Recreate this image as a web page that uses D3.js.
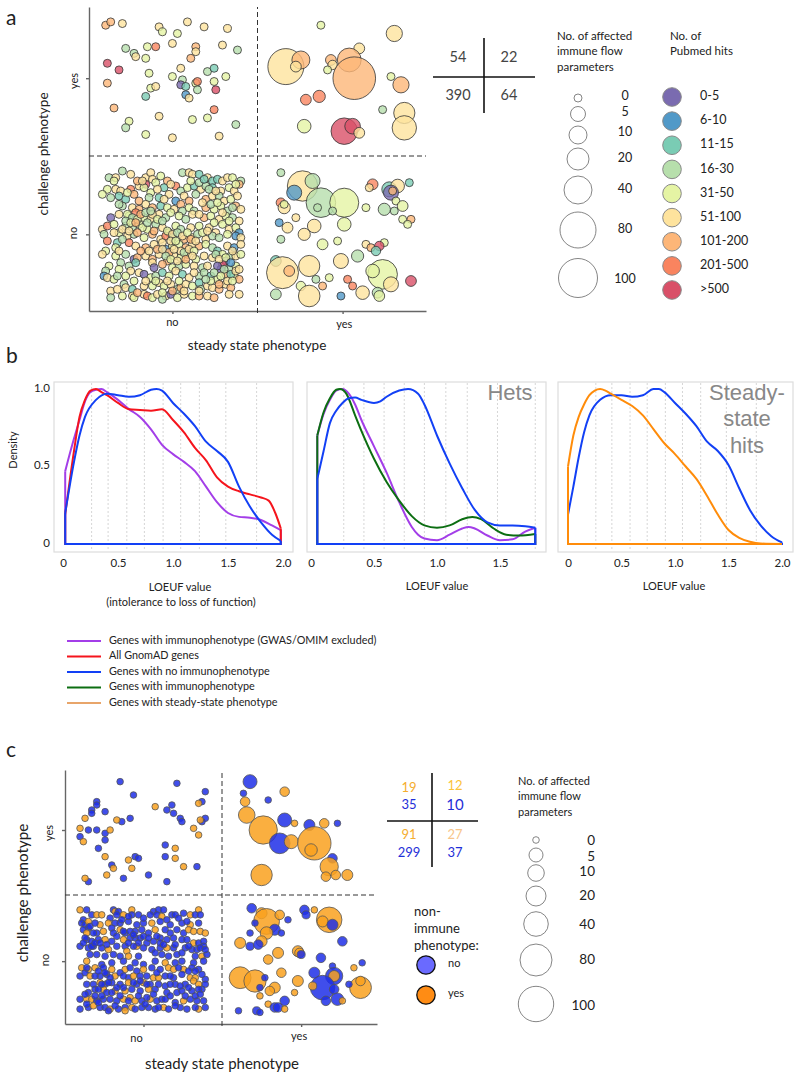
<!DOCTYPE html>
<html>
<head>
<meta charset="utf-8">
<title>Immune phenotype bubble charts</title>
<script src="https://cdn.jsdelivr.net/npm/d3@7"></script>
<style>
  body { margin: 0; background: #fff; }
  text { font-family: Lato, "Open Sans", sans-serif; fill: #222; }
</style>
</head>
<body>
<div id="chart"></div>
<script>
// ---- data ----
const flowTicks = [0, 5, 10, 20, 40, 80, 100];
const pubmedBins = ["0-5", "6-10", "11-15", "16-30", "31-50", "51-100", "101-200", "201-500", ">500"];
const pubmedColors = ["#7a6bb0", "#5199c8", "#7accb4", "#b7dfac", "#e5f4a4", "#fee39d", "#fdb678", "#f9845f", "#d95068"];
const tableA = [["54", "22"], ["390", "64"]];

// panel a points: [jitter x, jitter y, pubmed bin, no. of flow parameters]
const aNoYes = [[10,172,6],[13,174,6],[20,173,5],[42,171,5],[44,168,4],[53,167,4],[59,174,5],[69,171,5],[83,170,5],[50,161,5],[40,159,7],[35,159,4],[22,158,3],[27,155,3],[28,153,5],[34,152,4],[64,159,6],[64,156,5],[61,152,6],[80,160,5],[89,157,3],[11,149,8],[18,145,8],[36,143,4],[55,146,5],[71,144,3],[75,146,2],[50,141,4],[82,141,4],[75,138,4],[56,139,3],[64,137,4],[65,138,7],[55,136,0],[58,135,2],[65,133,3],[76,133,8],[11,137,6],[37,134,4],[40,135,5],[34,129,2],[58,130,1],[60,128,5],[15,122,6],[75,121,7],[24,114,4],[22,110,3],[42,117,5],[62,115,4],[71,116,4],[88,112,3],[34,106,4],[50,104,5],[78,105,5]];
const aYesYes = [[118,147,5,80],[127,151,6,10],[124,147,5,2],[139,172,4,0],[183,167,5,7],[162,158,5,2],[145,151,6,2],[146,148,5,1],[143,145,4,0],[156,151,6,26],[159,140,6,125],[181,141,4,0],[187,136,6,7],[130,127,7,2],[138,129,7,3],[176,121,3,0],[189,119,5,18],[129,111,4,4],[153,108,8,35],[158,111,8,6],[162,107,5,2],[189,110,5,28]];
const aYesNo = [[115,83,3,0],[128,75,5,52],[134,78,3,5],[123,71,1,5],[139,65,3,48],[153,65,4,45],[137,62,3,0],[146,60,3,0],[170,76,7,2],[168,74,5,0],[180,73,2,5],[185,75,5,4],[192,77,2,0],[181,71,0,5],[182,72,6,0],[184,66,4,0],[188,63,4,2],[177,61,3,3],[183,60,3,0],[166,62,4,0],[115,65,7,1],[117,62,5,3],[117,64,4,0],[124,56,5,0],[114,53,1,0],[119,50,5,2],[135,51,5,4],[129,46,5,3],[153,52,4,4],[188,55,4,0],[193,55,6,0],[191,52,4,0],[115,43,3,0],[140,40,4,2],[149,42,4,0],[166,40,5,0],[169,38,6,0],[177,41,4,0],[174,39,8,1],[172,36,2,1],[151,30,5,5],[161,33,3,3],[112,30,2,2],[116,23,5,60],[120,24,6,2],[132,27,5,18],[176,22,4,48],[170,24,4,4],[136,19,3,0],[144,20,4,0],[155,19,7,0],[158,15,7,0],[193,18,8,2],[181,16,5,5],[127,15,4,1],[140,15,6,0],[132,9,5,19],[112,10,3,2],[151,9,1,0],[164,11,5,4],[173,11,3,2],[174,9,4,2]];
const aNoNo = [[20,84,3],[25,82,5],[12,80,3],[16,80,5],[34,80,5],[37,83,5],[43,81,4],[47,78,6],[56,83,3],[60,83,5],[62,82,5],[66,82,2],[71,80,5],[74,78,2],[77,79,2],[80,78,5],[83,80,5],[86,80,4],[91,78,3],[34,76,8],[38,79,5],[40,77,4],
[11,73,4],[16,73,5],[19,72,5],[25,73,7],[30,75,5],[33,74,4],[37,71,4],[45,74,2],[52,75,7],[55,72,3],[59,74,4],[63,75,2],[67,73,5],[70,75,3],[74,74,2],[79,72,5],[84,74,4],[87,72,5],[90,76,6],
[13,68,3],[18,69,2],[22,67,2],[27,70,6],[30,66,6],[36,68,3],[42,68,2],[48,70,5],[52,66,1],[57,69,5],[60,66,6],[64,70,3],[70,67,6],[74,69,5],[78,69,3],[81,66,5],[85,67,4],[89,69,5],[8,70,4],
[20,63,3],[26,62,5],[30,61,6],[34,64,5],[38,62,6],[43,63,2],[47,62,4],[51,61,5],[55,64,6],[56,60,3],[60,62,4],[63,60,3],[70,62,6],[75,61,4],[79,63,4],[83,60,3],[88,63,6],[91,61,5],
[13,56,0],[18,58,5],[24,57,3],[28,59,7],[33,56,4],[37,55,5],[42,58,5],[46,56,3],[49,59,4],[54,57,4],[58,55,3],[62,58,5],[69,56,6],[73,57,4],[78,55,5],[82,57,4],[86,56,3],[90,54,5],
[8,49,5],[11,51,7],[15,52,4],[22,51,3],[26,50,3],[30,52,4],[35,49,4],[40,52,3],[44,50,5],[48,47,6],[52,51,4],[55,49,3],[61,50,5],[66,51,4],[72,50,5],[76,47,5],[80,52,4],[84,49,5],[88,50,4],[90,47,1],
[9,46,3],[11,42,7],[18,47,4],[23,45,5],[27,46,3],[33,44,4],[38,46,6],[43,43,5],[46,45,7],[50,44,2],[57,43,6],[62,44,5],[65,46,3],[70,43,5],[74,45,3],[78,44,3],[83,46,4],[88,45,1],[91,44,5],
[17,41,2],[16,38,4],[24,41,7],[28,39,5],[34,38,6],[39,40,5],[44,41,5],[46,37,1],[50,39,4],[54,40,4],[58,38,6],[62,40,5],[66,39,6],[70,40,4],[74,38,3],[77,36,2],[83,39,5],[87,38,1],[91,40,5],
[10,36,4],[8,34,5],[16,33,4],[22,34,3],[27,31,0],[29,32,6],[34,33,5],[38,31,6],[42,34,5],[47,30,6],[51,33,5],[55,32,4],[59,34,5],[64,31,4],[69,33,5],[74,32,5],[80,34,4],[85,33,3],[82,30,0],[80,28,8],
[19,29,3],[24,27,3],[28,29,2],[38,29,5],[39,26,0],[44,28,6],[50,26,4],[54,27,3],[58,28,4],[63,27,5],[68,26,3],[71,27,5],[79,25,0],[84,25,3],[88,27,4],[12,27,4],[10,24,3],[18,25,4],
[25,24,5],[30,23,5],[33,22,0],[37,20,4],[40,21,3],[44,23,2],[48,21,4],[52,24,5],[56,22,2],[60,20,5],[66,21,3],[69,23,3],[73,21,2],[77,19,4],[82,22,6],[87,21,4],[90,19,6],[9,21,1],[11,20,5],
[21,16,3],[22,14,5],[26,13,2],[33,15,5],[38,15,4],[42,17,5],[45,15,4],[49,16,5],[53,13,3],[55,14,6],[58,16,5],[62,15,4],[66,17,2],[67,13,3],[71,15,5],[74,14,5],[78,13,6],[82,16,5],[85,14,6],[13,12,5],
[13,8,3],[20,9,4],[26,9,5],[27,8,4],[33,10,5],[35,9,7],[38,8,4],[41,10,5],[46,9,5],[49,10,0],[53,8,4],[57,10,5],[62,9,4],[66,9,6],[71,9,5],[75,8,6],[84,10,5],[90,10,5],[44,7,3],
[47,48,4],[50,46,5],[53,47,3],[56,45,5],[59,47,4],[61,43,6],[64,42,5],[49,42,5],[52,42,4],[55,36,5],[57,35,3],[60,37,5],[63,36,4],[48,35,6],[51,37,5],[46,33,3],[49,31,4],[53,30,5],[58,31,6],[62,33,5],
[23,58,4],[26,56,3],[29,55,4],[31,58,6],[34,59,3],[22,54,3],[25,53,4],[28,53,6],[32,50,4],[35,53,3],[38,58,5],[41,55,4],[44,54,3],[39,48,6],[20,49,5],[15,47,5],[24,48,5],[29,47,6],
[76,34,3],[78,31,5],[82,32,4],[85,29,1],[88,33,5],[91,34,4],[86,36,5],[77,27,0],[81,25,3],[85,22,2],[88,24,5],[75,23,3],[79,21,4],[83,18,5],[86,18,4],[90,25,5],[73,18,4],[78,16,6],
[15,78,4],[29,78,6],[32,78,5],[41,73,5],[49,76,5],[61,78,4],[66,77,3],[69,79,2],[72,73,3],[76,72,5],[88,76,4],[18,64,3],[23,71,4],[37,60,3],[45,67,5],[68,65,5],[73,64,3],[77,65,4],[86,62,3],[66,58,5],[75,53,4],[80,59,5],[84,54,4],[68,47,4],[71,48,5],[18,36,5],[20,43,3],[31,36,6],[36,36,5],[41,37,6],[44,37,5],[15,19,4],[17,21,3],[27,18,4],[34,18,5],[40,18,4],[47,18,5],[54,18,4],[63,23,5],[66,12,5],[70,19,3],[50,12,6],[44,11,4],[57,12,5],[29,11,6],[17,13,5],[22,21,4]];

// density curves, [LOEUF, density] pairs
const b1Purple = [[.02,.47],[.1,.68],[.15,.8],[.2,.92],[.25,.98],[.3,.995],[.35,1],[.4,.98],[.5,.93],[.6,.87],[.7,.82],[.8,.74],[.9,.64],[1,.58],[1.1,.53],[1.2,.47],[1.3,.37],[1.4,.27],[1.5,.2],[1.6,.175],[1.7,.17],[1.8,.155],[1.9,.12],[1.98,.09]];
const b1Red = [[.02,.19],[.1,.6],[.15,.82],[.2,.93],[.25,.99],[.3,1],[.35,.98],[.4,.96],[.5,.91],[.6,.87],[.7,.865],[.8,.86],[.9,.87],[1,.8],[1.1,.72],[1.2,.62],[1.3,.54],[1.4,.43],[1.5,.37],[1.6,.34],[1.7,.32],[1.8,.3],[1.87,.28],[1.93,.2],[1.98,.1]];
const b1Blue = [[.02,.2],[.1,.53],[.15,.7],[.2,.82],[.3,.93],[.4,.97],[.5,.96],[.6,.95],[.7,.96],[.8,.995],[.85,1],[.9,.99],[1,.91],[1.1,.84],[1.2,.76],[1.3,.66],[1.4,.6],[1.5,.53],[1.6,.37],[1.7,.24],[1.8,.14],[1.9,.06],[1.98,.02]];
const b2Purple = [[.05,.7],[.1,.84],[.15,.93],[.2,.99],[.25,1],[.3,.97],[.35,.9],[.4,.8],[.5,.63],[.6,.46],[.7,.27],[.8,.11],[.85,.06],[.9,.035],[1,.025],[1.1,.06],[1.2,.1],[1.25,.11],[1.3,.1],[1.4,.055],[1.5,.025],[1.6,.03],[1.7,.08],[1.78,.105]];
const b2Green = [[.05,.7],[.1,.85],[.15,.94],[.2,.995],[.23,1],[.28,.97],[.35,.83],[.4,.73],[.5,.55],[.6,.4],[.7,.28],[.8,.18],[.9,.12],[1,.105],[1.1,.12],[1.2,.16],[1.28,.175],[1.35,.16],[1.45,.1],[1.55,.06],[1.65,.055],[1.78,.065]];
const b2Blue = [[.05,.42],[.1,.6],[.15,.78],[.2,.86],[.25,.91],[.3,.94],[.35,.945],[.4,.93],[.5,.91],[.55,.92],[.6,.95],[.7,.99],[.77,1],[.85,.97],[.9,.9],[1,.7],[1.1,.52],[1.2,.36],[1.3,.22],[1.4,.14],[1.5,.12],[1.6,.12],[1.7,.115],[1.78,.105]];
const b3Blue = [[0,.19],[.05,.37],[.1,.56],[.15,.72],[.2,.83],[.3,.93],[.4,.96],[.5,.96],[.6,.95],[.7,.96],[.8,1],[.85,1],[.9,.98],[1,.91],[1.1,.84],[1.2,.76],[1.3,.66],[1.4,.6],[1.5,.51],[1.6,.36],[1.7,.22],[1.8,.12],[1.9,.05],[2,.01]];
const b3Orange = [[0,.5],[.05,.7],[.1,.82],[.15,.9],[.2,.96],[.25,.99],[.3,1],[.35,.99],[.4,.97],[.5,.93],[.6,.89],[.7,.83],[.8,.74],[.9,.65],[1,.58],[1.1,.5],[1.2,.42],[1.3,.31],[1.4,.19],[1.5,.09],[1.6,.04],[1.7,.015],[1.8,.003],[2,0]];
const decilesB1 = [.26,.41,.58,.74,.91,1.07,1.24,1.48,1.76];
const decilesB2 = [.26,.42,.58,.74,.9,1.07,1.24,1.48,1.78];
const decilesB3 = [.26,.41,.58,.74,.91,1.07,1.24,1.48,1.76];
const legendLines = ["Genes with immunophenotype (GWAS/OMIM excluded)", "All GnomAD genes", "Genes with no immunophenotype", "Genes with immunophenotype", "Genes with steady-state phenotype"];

// panel c points: [jitter x, jitter y, non-immune phenotype 0/1, no. of flow parameters]
const cNoYes = [[33,146,0],[67,145,0],[41,138,0],[84,140,0],[19,134,0],[19,132,0],[16,129,0],[16,127,0],[24,128,0],[64,132,0],[61,129,0],[65,127,0],[82,134,0],[69,124,0],[70,122,0],[84,124,0],[39,124,0],[34,122,0],[14,117,0],[19,117,0],[24,115,0],[9,113,0],[24,111,0],[20,106,0],[60,108,0],[42,101,0],[44,100,0],[60,101,0],[28,96,0],[79,95,0],[35,88,0],[50,90,0],[14,86,0],[61,86,0],[82,122,0],
[54,131,1],[80,133,1],[12,124,1],[31,123,1],[81,123,1],[9,118,1],[27,117,1],[77,118,1],[11,110,1],[80,114,1],[66,106,1],[24,101,1],[38,99,1],[66,100,1],[29,94,1],[40,94,1],[71,95,1],[25,90,1],[12,88,1]];
const cYesYes = [[111,146,0,5],[107,139,0,0],[132,140,1,2],[122,135,0,0],[108,134,1,2],[109,126,1,10],[119,117,1,60],[132,123,0,5],[138,121,1,0],[147,120,0,3],[156,121,1,2],[164,121,0,0],[129,109,0,23],[136,110,1,5],[150,109,1,88],[148,105,1,4],[161,100,0,2],[159,95,1,15],[118,90,1,26],[157,89,1,2],[163,90,1,2],[170,90,1,3]];
const cYesNo = [[112,70,0,2],[118,67,1,3],[121,62,1,47],[114,61,0,0],[129,66,1,2],[134,63,0,0],[126,57,0,3],[130,55,0,0],[121,55,1,4],[118,50,1,3],[111,55,0,0],[105,49,1,3],[111,47,0,1],[116,48,0,2],[144,69,0,2],[145,66,0,1],[150,69,1,0],[159,63,1,45],[155,62,1,3],[161,60,0,3],[167,50,0,2],[128,43,1,3],[122,39,1,2],[140,44,1,3],[141,43,1,2],[142,42,0,1],[154,40,0,2],[161,35,0,0],[179,37,0,0],[174,34,1,0],[162,29,0,12],[162,29,1,3],[150,31,0,3],[155,22,0,40],[149,23,1,1],[162,21,0,2],[105,28,1,28],[114,26,1,30],[120,28,0,0],[117,22,0,0],[130,31,1,2],[140,26,1,3],[126,22,1,3],[123,20,1,2],[138,19,1,0],[117,17,1,0],[132,14,0,2],[122,12,1,0],[178,22,1,28],[178,26,1,2],[171,24,0,0],[157,14,0,2],[164,15,0,4],[167,14,1,0],[126,10,0,2],[128,10,0,2],[132,9,1,0],[115,8,0,1],[117,7,0,0],[104,8,0,0]];
const cNoNo = [[9,69,1],[13,69,0],[29,69,0],[30,68,1],[32,68,0],[40,69,1],[53,68,0],[56,69,0],[59,69,0],[80,69,1],
[11,63,0],[16,66,0],[19,66,1],[22,66,1],[27,64,0],[31,66,0],[35,66,1],[40,66,0],[44,66,0],[51,66,0],[55,66,0],[58,65,1],[64,66,0],[66,66,0],[71,67,0],[75,66,1],[78,66,0],[81,66,0],
[10,61,0],[12,60,0],[14,62,1],[21,60,1],[26,61,1],[30,61,0],[33,61,0],[38,62,0],[43,60,0],[47,61,0],[52,61,1],[57,62,0],[63,60,0],[70,61,0],[75,60,1],[80,61,0],
[11,57,0],[14,58,0],[13,55,1],[19,55,0],[23,56,1],[28,58,0],[33,57,1],[36,55,0],[42,56,0],[46,57,0],[50,55,0],[54,57,1],[60,57,0],[67,57,0],[71,55,0],[74,57,1],[77,56,1],[81,56,1],[84,55,1],
[13,51,0],[16,50,0],[20,51,0],[24,51,1],[28,50,0],[35,51,1],[39,52,0],[42,52,0],[45,52,0],[49,49,0],[53,50,0],[57,52,0],[61,51,0],[65,52,0],[70,51,0],[77,49,1],[80,49,0],[83,50,0],
[9,47,0],[14,46,0],[17,47,0],[22,46,0],[26,45,1],[31,47,0],[36,47,0],[37,44,1],[43,47,1],[47,46,0],[52,45,0],[57,46,0],[61,46,1],[65,46,0],[72,46,0],[76,45,0],[83,47,0],
[15,42,0],[19,42,0],[24,41,0],[29,42,0],[33,41,0],[38,41,1],[44,41,0],[54,43,0],[58,42,0],[62,41,0],[67,42,0],[70,43,0],[78,41,0],[82,41,1],[85,42,0],
[13,38,1],[22,36,0],[28,37,0],[35,38,0],[42,37,0],[47,36,0],[54,38,0],[60,37,1],[66,37,0],[70,38,0],[77,37,0],[83,38,0],
[10,34,1],[14,33,1],[18,34,1],[23,34,0],[28,33,1],[36,33,1],[39,34,0],[43,32,0],[47,33,1],[52,34,0],[57,33,0],[62,34,1],[65,33,1],[71,33,1],[76,34,0],[80,33,0],
[9,29,0],[12,31,0],[15,29,1],[21,29,0],[25,30,0],[30,29,1],[38,28,0],[41,29,1],[45,29,0],[53,28,1],[56,28,1],[60,29,0],[65,28,0],[70,30,0],[75,28,1],[78,28,1],[84,27,0],
[13,24,0],[17,24,0],[21,25,1],[24,24,0],[28,25,0],[33,24,0],[38,25,1],[43,24,0],[47,25,1],[51,24,0],[60,23,0],[66,24,0],[72,24,0],[77,26,1],[80,24,1],[84,24,0],
[14,19,0],[18,21,0],[23,21,1],[25,19,0],[30,20,1],[36,20,1],[40,21,0],[45,20,0],[50,21,1],[54,21,0],[61,19,0],[67,19,0],[70,20,0],[76,20,0],[82,21,0],
[9,15,0],[13,15,1],[16,15,1],[19,14,0],[23,15,0],[27,15,0],[31,14,0],[35,15,1],[39,16,1],[42,14,1],[46,14,0],[51,15,1],[55,14,0],[58,15,0],[66,13,0],[71,14,1],[75,15,0],[79,14,0],[83,14,0],
[9,9,0],[14,10,0],[17,11,1],[21,10,0],[24,10,0],[27,9,1],[32,9,0],[36,10,0],[40,10,1],[42,9,0],[46,10,0],[50,10,0],[54,9,0],[59,10,1],[62,9,0],[69,10,0],[73,9,0],[80,9,1],[84,10,0],[78,10,0],[26,8,0],[36,8,1],
[15,59,0],[17,55,0],[12,52,0],[16,47,0],[11,49,0],[18,49,0],[21,49,0],[25,48,0],[29,55,0],[31,53,0],[35,56,0],[39,56,0],[41,54,0],[44,49,0],[41,47,0],[38,49,0],[47,53,0],[50,52,0],[55,53,0],[57,49,0],[59,48,0],[63,55,0],[66,48,0],[73,51,0],[74,47,0],[79,45,0],[81,46,0],[84,45,0],[13,34,0],[18,29,0],[20,32,0],[24,31,0],[27,28,0],[33,31,0],[35,29,0],[49,29,0],[55,31,0],[63,29,0],[68,34,0],[74,32,0],[78,32,0],[82,30,0],[20,21,0],[22,24,0],[26,25,0],[31,22,0],[35,22,0],[41,25,0],[45,26,0],[49,24,0],[56,24,0],[63,24,0],[69,23,0],[74,22,0],[80,21,0],[18,17,0],[22,17,0],[28,19,0],[33,17,0],[38,14,0],[44,17,0],[49,16,0],[53,18,0],[60,15,0],[63,17,0],[72,17,0],[78,17,0],[81,18,0],[20,13,0],[30,11,0],[48,12,0],[66,11,0],[56,10,0],[13,12,0],[12,18,0],[47,64,0],[38,65,0],[61,63,0],[68,64,0],[34,63,0],[18,61,0],[73,62,0]];
const tableCYes = [["19", "12"], ["91", "27"]];
const tableCNo = [["35", "10"], ["299", "37"]];

// ---- drawing ----
const svg = d3.select("#chart").append("svg").attr("width", 800).attr("height", 1079);

function addText(str, x, y, size, opts) {
    opts = opts || {};
    const t = svg.append("text").text(str)
        .attr("font-size", size)
        .attr("text-anchor", opts.anchor || "start")
        .attr("dominant-baseline", "middle");
    if (opts.rotate) t.attr("transform", `translate(${x},${y}) rotate(-90)`);
    else t.attr("x", x).attr("y", y);
    if (opts.fill) t.style("fill", opts.fill);
    if (opts.family) t.style("font-family", opts.family);
    return t;
}

function quadrantAxes(x, y, xTicks, yTicks) {
    const [x0, xm, x1] = x.range();
    const [y0, ym, y1] = y.range();
    const g = svg.append("g");
    g.append("g").attr("transform", `translate(0,${y0})`)
        .call(d3.axisBottom(x).tickValues(xTicks).tickSize(3).tickSizeOuter(0).tickFormat(""))
        .call(s => s.selectAll("line,path").attr("stroke", "#666").attr("stroke-width", 1.4));
    g.append("g").attr("transform", `translate(${x0},0)`)
        .call(d3.axisLeft(y).tickValues(yTicks).tickSize(3).tickSizeOuter(0).tickFormat(""))
        .call(s => s.selectAll("line,path").attr("stroke", "#666").attr("stroke-width", 1.4));
    g.append("line").attr("x1", xm).attr("x2", xm).attr("y1", y0 + 2).attr("y2", y1)
        .attr("stroke", "#333").attr("stroke-dasharray", "5 3");
    g.append("line").attr("x1", x0).attr("x2", x1).attr("y1", ym).attr("y2", ym)
        .attr("stroke", "#333").attr("stroke-dasharray", "5 3");
}

function bubbles(points, x, y, r, fill, opacity, stroke) {
    svg.append("g").selectAll("circle")
        .data(points)
        .enter().append("circle")
        .attr("cx", d => x(d[0]))
        .attr("cy", d => y(d[1]))
        .attr("r", d => r(d[3] || 0))
        .attr("fill", d => fill(d[2]))
        .attr("fill-opacity", opacity)
        .attr("stroke", stroke)
        .attr("stroke-width", 0.8);
}

function crossTable(cx, cy, left, right, top, bottom) {
    svg.append("line").attr("x1", cx).attr("x2", cx).attr("y1", top).attr("y2", bottom).attr("stroke", "#111").attr("stroke-width", 1.6);
    svg.append("line").attr("x1", left).attr("x2", right).attr("y1", cy).attr("y2", cy).attr("stroke", "#111").attr("stroke-width", 1.6);
}

function sizeLegend(r, cx, ys) {
    svg.append("g").selectAll("circle")
        .data(flowTicks)
        .enter().append("circle")
        .attr("cx", cx)
        .attr("cy", (d, i) => ys[i])
        .attr("r", d => r(d))
        .attr("fill", "#fff")
        .attr("stroke", "#666")
        .attr("stroke-width", 0.8);
}

// panel a
addText("a", 6, 20, 21);
const aX = d3.scaleLinear().domain([0, 101, 202]).range([89, 257.5, 426]);
const aY = d3.scaleLinear().domain([0, 93, 183]).range([311, 156, 7]);
const aR = d3.scaleLinear().domain([...flowTicks, 125]).range([4, 7.5, 9, 11, 14, 18, 19.5, 21.3]);
const aFill = i => pubmedColors[i];
quadrantAxes(aX, aY, [50, 152], [46, 140]);
[aNoYes, aYesYes, aYesNo, aNoNo].forEach(p => bubbles(p, aX, aY, aR, aFill, 0.8, "#333"));
addText("no", aX(50), 323, 11, {anchor: "middle"});
addText("yes", aX(153), 325, 11, {anchor: "middle"});
addText("yes", 75, 81, 11, {anchor: "middle", rotate: true});
addText("no", 74, 233, 11, {anchor: "middle", rotate: true});
addText("steady state phenotype", 257, 347, 13.5, {anchor: "middle"});
addText("challenge phenotype", 45, 154, 13.5, {anchor: "middle", rotate: true});

crossTable(484, 77, 433, 535, 38, 113);
tableA.forEach((row, i) => row.forEach((v, j) =>
    addText(v, j ? 509 : 458, i ? 96 : 58, 14.5, {anchor: "middle", fill: "#444"})));

["No. of affected", "immune flow", "parameters"].forEach((s, i) => addText(s, 557, 37 + i * 15.5, 11.5));
["No. of", "Pubmed hits"].forEach((s, i) => addText(s, 670, 37 + i * 15.5, 11.5));
const aLegendY = [98, 114, 135, 159, 190, 230, 278];
const aLegendLabelY = [97, 113, 133, 159, 190, 230, 280];
sizeLegend(aR, 578, aLegendY);
flowTicks.forEach((v, i) => addText(v, 625, aLegendLabelY[i], 12.5, {anchor: "middle"}));
const binY = d3.scalePoint().domain(pubmedBins).range([97, 290]);
svg.append("g").selectAll("circle")
    .data(pubmedBins)
    .enter().append("circle")
    .attr("cx", 672)
    .attr("cy", d => binY(d))
    .attr("r", 9.3)
    .attr("fill", (d, i) => pubmedColors[i])
    .attr("stroke", "#888")
    .attr("stroke-width", 1);
pubmedBins.forEach(b => addText(b, 700, binY(b), 12.5));

// panel b
addText("b", 6, 358, 21);
const purple = "#a33ee8", red = "#f5141c", blue = "#1240f5", green = "#0c6e12", orange = "#ff8c0a";

function densityPanel(frame, x, deciles, series) {
    const y = d3.scaleLinear().domain([0, 1]).range([544, 389]);
    svg.append("rect")
        .attr("x", frame[0]).attr("y", 382)
        .attr("width", frame[1] - frame[0]).attr("height", 170)
        .attr("fill", "#fff").attr("stroke", "#ddd").attr("stroke-width", 1.2);
    svg.append("g").selectAll("line")
        .data(deciles)
        .enter().append("line")
        .attr("x1", d => x(d)).attr("x2", d => x(d))
        .attr("y1", 383).attr("y2", 551)
        .attr("stroke", "#ccc").attr("stroke-width", 0.8).attr("stroke-dasharray", "2 2");
    const top = d3.line().x(d => x(d[0])).y(d => y(d[1])).curve(d3.curveMonotoneX);
    const closing = d3.line().x(d => x(d[0])).y(d => y(d[1]));
    series.forEach(s => {
        const pts = s.points;
        const first = pts[0], last = pts[pts.length - 1];
        svg.append("path").attr("d", closing([last, [last[0], 0], [first[0], 0], first]))
            .attr("fill", "none").attr("stroke", s.color).attr("stroke-width", 2);
        svg.append("path").attr("d", top(pts))
            .attr("fill", "none").attr("stroke", s.color).attr("stroke-width", 2);
    });
    svg.append("g").attr("transform", "translate(0,563)")
        .call(d3.axisBottom(x).tickValues(x.domain()[1] === 2 ? [0, .5, 1, 1.5, 2] : [0, .5, 1, 1.5]).tickSize(0).tickFormat(d => d === 0 ? "0" : d3.format(".1f")(d)))
        .call(s => s.select(".domain").remove())
        .call(s => s.selectAll("text").attr("y", 0).attr("dy", "0.32em").attr("font-size", 11.5).attr("font-family", "Lato"));
    return y;
}

const b1X = d3.scaleLinear().domain([0, 2]).range([63, 283]);
const b2X = d3.scaleLinear().domain([0, 1.8]).range([311, 537.8]);
const b3X = d3.scaleLinear().domain([0, 2]).range([568, 782]);
const b1Y = densityPanel([54, 293], b1X, decilesB1, [{points: b1Purple, color: purple}, {points: b1Red, color: red}, {points: b1Blue, color: blue}]);
densityPanel([307, 546], b2X, decilesB2, [{points: b2Purple, color: purple}, {points: b2Green, color: green}, {points: b2Blue, color: blue}]);
densityPanel([558, 793], b3X, decilesB3, [{points: b3Blue, color: blue}, {points: b3Orange, color: orange}]);
[[1, "1.0"], [.5, "0.5"], [0, "0"]].forEach(d => addText(d[1], 50, b1Y(d[0]), 11.5, {anchor: "end"}));
addText("Density", 14, 450, 11, {anchor: "middle", rotate: true});
addText("LOEUF value", 180, 588, 11, {anchor: "middle"});
addText("(intolerance to loss of function)", 181, 603, 11, {anchor: "middle"});
addText("LOEUF value", 437, 587, 11, {anchor: "middle"});
addText("LOEUF value", 674, 587, 11, {anchor: "middle"});
const greyLabel = {anchor: "middle", fill: "#888", family: "Liberation Sans"};
addText("Hets", 510, 394, 22, greyLabel);
addText("Steady-", 747, 394, 22, greyLabel);
addText("state", 747, 420, 22, greyLabel);
addText("hits", 747, 447, 22, greyLabel);

const legendColors = [purple, red, blue, green, "#e8a56a"];
const legendY = d3.scalePoint().domain(legendLines).range([641, 703]);
legendLines.forEach((s, i) => {
    svg.append("line").attr("x1", 67).attr("x2", 101).attr("y1", legendY(s)).attr("y2", legendY(s))
        .attr("stroke", legendColors[i]).attr("stroke-width", 1.8);
    addText(s, 109, legendY(s), 10.8);
});

// panel c
addText("c", 6, 752, 21);
const cX = d3.scaleLinear().domain([0, 94, 188]).range([65, 222, 377]);
const cY = d3.scaleLinear().domain([0, 78, 153]).range([1024, 895, 770]);
const cR = d3.scaleLinear().domain(flowTicks).range([3.3, 7, 8.3, 10, 12.3, 16, 17.7]);
const cFill = i => i ? "#f9a11e" : "#1f2fe8";
quadrantAxes(cX, cY, [47, 142], [38, 117]);
[cNoYes, cYesYes, cYesNo, cNoNo].forEach(p => bubbles(p, cX, cY, cR, cFill, 0.85, "#555"));
addText("no", cX(47) - 7, 1039, 11, {anchor: "middle"});
addText("yes", cX(142) - 2, 1037, 11, {anchor: "middle"});
addText("yes", 50, 833, 11, {anchor: "middle", rotate: true});
addText("no", 46, 960, 11, {anchor: "middle", rotate: true});
addText("steady state phenotype", 222, 1065, 15, {anchor: "middle"});
addText("challenge phenotype", 24, 893, 15.2, {anchor: "middle", rotate: true});

crossTable(432, 821, 387, 478, 773, 867);
const cRows = [[789, 806], [836, 854]];
const yesColors = [["#f5ad2e", "#fbc33a"], ["#f5ad2e", "#f8c58a"]];
tableCYes.forEach((row, i) => row.forEach((v, j) =>
    addText(v, j ? 455 : 409, cRows[i][0] - (i === 0 && j ? 2 : 0), 13, {anchor: "middle", fill: yesColors[i][j]})));
tableCNo.forEach((row, i) => row.forEach((v, j) =>
    addText(v, j ? 455 : 409, cRows[i][1], v === "10" ? 15 : 13, {anchor: "middle", fill: "#1f2fd8"})));

["No. of affected", "immune flow", "parameters"].forEach((s, i) => addText(s, 518, 782 + i * 15.5, 11));
const cLegendY = [840, 855, 873, 896, 924, 960, 1004];
const cLegendLabelY = [842, 858, 873, 897, 926, 961, 1007];
sizeLegend(cR, 536, cLegendY);
flowTicks.forEach((v, i) => addText(v, 595, cLegendLabelY[i], 13.5, {anchor: "end"}));
["non-", "immune", "phenotype:"].forEach((s, i) => addText(s, 414, 913 + i * 17, 13));
[["no", "#6a6aff", 965], ["yes", "#ff8c14", 995]].forEach(d => {
    svg.append("circle").attr("cx", 426).attr("cy", d[2]).attr("r", 9.2)
        .attr("fill", d[1]).attr("stroke", "#111").attr("stroke-width", 1.3);
    addText(d[0], 448, d[2] - 1, 11);
});
</script>
</body>
</html>
